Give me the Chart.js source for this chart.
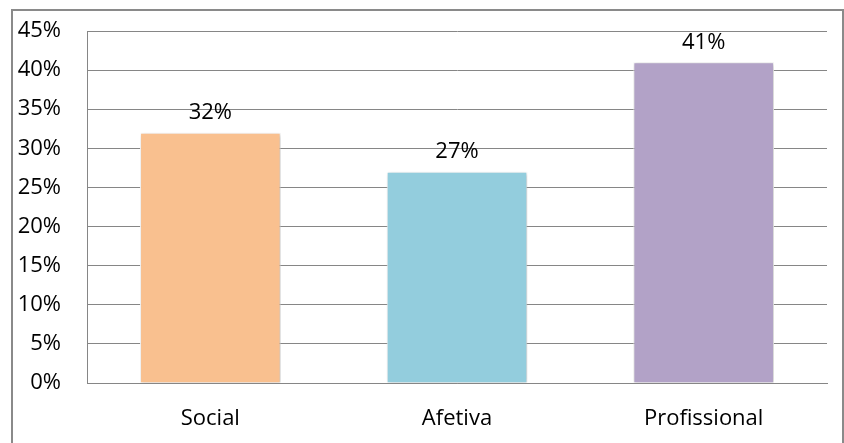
<!DOCTYPE html>
<html>
<head>
<meta charset="utf-8">
<script src="https://cdn.jsdelivr.net/npm/chart.js@4"></script>
<style>
  html, body { margin: 0; padding: 0; background: #fff; }
  #wrap { position: relative; width: 844px; height: 443px; overflow: hidden; }
  #frame { position: absolute; left: 11px; top: 9px; width: 829px; height: 450px; border: 2px solid #8a8a8a; }
  canvas { position: absolute; left: 0; top: 0; }
</style>
</head>
<body>
<div id="wrap">
  <div id="frame"></div>
  <canvas id="chart" width="844" height="443"></canvas>
</div>
<script>
const categories = ["Social", "Afetiva", "Profissional"];
const values = [32, 27, 41];
const barColors = ["#f9c08f", "#93cddd", "#b2a2c7"];
const yTicks = [0, 5, 10, 15, 20, 25, 30, 35, 40, 45];

const fontFamily = "'Open Sans', 'Liberation Sans', sans-serif";

// draws "32%" etc above each bar
const valueLabels = {
    id: "valueLabels",
    afterDatasetsDraw(chart) {
        const ctx = chart.ctx;
        const meta = chart.getDatasetMeta(0);
        ctx.save();
        ctx.font = "22px " + fontFamily;
        ctx.fillStyle = "#000";
        ctx.textAlign = "center";
        ctx.textBaseline = "middle";
        meta.data.forEach((bar, i) => {
            ctx.fillText(values[i] + "%", bar.x, bar.y - 20);
        });
        ctx.restore();
    }
};

// soft shadow on the bars
const barShadow = {
    id: "barShadow",
    beforeDatasetsDraw(chart) {
        chart.ctx.save();
        chart.ctx.shadowColor = "rgba(0,0,0,0.25)";
        chart.ctx.shadowBlur = 4;
        chart.ctx.shadowOffsetX = 1;
        chart.ctx.shadowOffsetY = 1;
    },
    afterDatasetsDraw(chart) {
        chart.ctx.restore();
    }
};

new Chart(document.getElementById("chart"), {
    type: "bar",
    data: {
        labels: categories,
        datasets: [{
            data: values,
            backgroundColor: barColors,
            borderColor: "#ffffff",
            borderWidth: 1,
            categoryPercentage: 0.57,
            barPercentage: 1
        }]
    },
    options: {
        responsive: false,
        animation: false,
        layout: { padding: { left: 0, right: 17, top: 31, bottom: 0 } },
        plugins: {
            legend: { display: false },
            tooltip: { enabled: false }
        },
        scales: {
            x: {
                grid: { display: false, drawTicks: false },
                border: { display: true, color: "#868686", width: 1 },
                ticks: { color: "#000", font: { family: fontFamily, size: 22 }, padding: 23 },
                afterFit(scale) {
                    scale.height = 60;
                    scale.paddingLeft = 0;
                    scale.paddingRight = 0;
                }
            },
            y: {
                min: 0,
                max: 45,
                afterBuildTicks(scale) { scale.ticks = yTicks.map(v => ({ value: v })); },
                grid: { color: "#868686", lineWidth: 1, drawTicks: false },
                border: { display: true, color: "#868686", width: 1 },
                ticks: {
                    color: "#000",
                    font: { family: fontFamily, size: 22 },
                    padding: 26,
                    callback: v => v + "%"
                },
                afterFit(scale) {
                    scale.width = 87;
                    scale.paddingTop = 0;
                    scale.paddingBottom = 0;
                }
            }
        }
    },
    plugins: [barShadow, valueLabels]
});
</script>
</body>
</html>
